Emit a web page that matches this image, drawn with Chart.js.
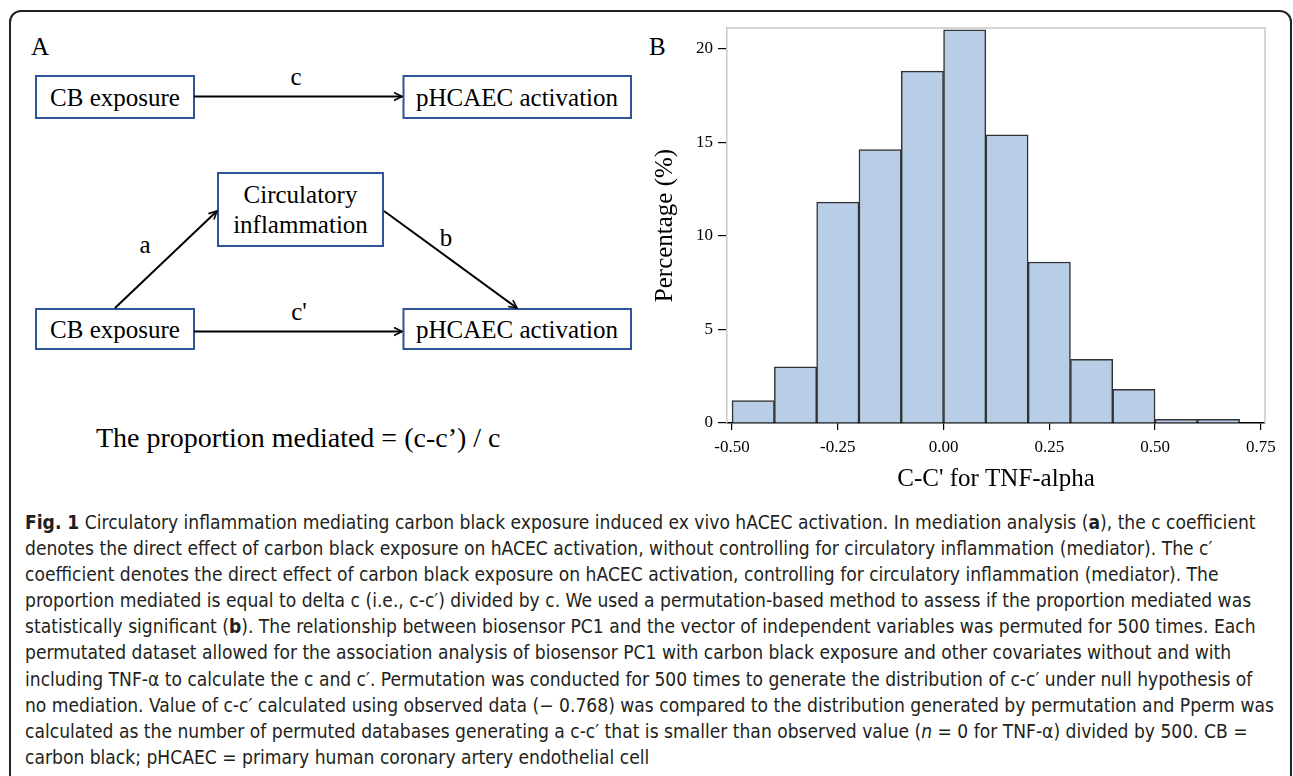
<!DOCTYPE html>
<html>
<head>
<meta charset="utf-8">
<script src="https://cdn.jsdelivr.net/npm/chart.js@4/dist/chart.umd.min.js"></script>
<style>
  body { margin: 0; width: 1293px; height: 776px; overflow: hidden; background: #fff; position: relative; }
  #frame { position: absolute; left: 9px; top: 10px; width: 1279px; height: 820px; border: 2px solid #222; border-radius: 12px; }
  #diagram { position: absolute; left: 0; top: 0; }
  #chartBox { position: absolute; left: 640px; top: 0; width: 653px; height: 500px; }
  #caption { position: absolute; left: 25px; top: 509px; font-family: "DejaVu Sans Condensed", "DejaVu Sans", sans-serif; font-stretch: condensed; font-size: 19px; line-height: 26.1px; color: #231f20; white-space: nowrap; transform-origin: 0 0; }
  #caption span { display: block; }
</style>
</head>
<body>
<div id="frame"></div>

<svg id="diagram" width="640" height="470" font-family="Liberation Serif, Times New Roman, serif" font-size="25">
  <defs>
    <marker id="arr" markerWidth="10" markerHeight="10" refX="9" refY="5" orient="auto" markerUnits="userSpaceOnUse">
      <path d="M1,1 L9,5 L1,9" fill="none" stroke="#000" stroke-width="1.6"/>
    </marker>
  </defs>
  <text x="31" y="55">A</text>
  <g fill="none" stroke="#2e5597" stroke-width="2">
    <rect x="36" y="76" width="158" height="42"/>
    <rect x="403.5" y="76" width="227.5" height="42"/>
    <rect x="218" y="173" width="165" height="73"/>
    <rect x="36" y="309" width="158" height="40"/>
    <rect x="403.5" y="309" width="227.5" height="40"/>
  </g>
  <g stroke="#000" stroke-width="2" marker-end="url(#arr)">
    <line x1="194" y1="96.5" x2="402" y2="96.5"/>
    <line x1="194" y1="331.5" x2="402" y2="331.5"/>
    <line x1="115" y1="308" x2="217" y2="211"/>
    <line x1="384" y1="211" x2="517" y2="308"/>
  </g>
  <g text-anchor="middle">
    <text x="115" y="105.5">CB exposure</text>
    <text x="517" y="105.5">pHCAEC activation</text>
    <text x="300.5" y="203">Circulatory</text>
    <text x="300.5" y="233">inflammation</text>
    <text x="115" y="338">CB exposure</text>
    <text x="517" y="338">pHCAEC activation</text>
    <text x="296" y="85">c</text>
    <text x="299" y="320">c'</text>
    <text x="145" y="253">a</text>
    <text x="446" y="246">b</text>
  </g>
  <text x="96" y="447" font-size="28">The proportion mediated = (c-c’) / c</text>
</svg>
<svg style="position:absolute;left:640px;top:0" width="40" height="70" font-family="Liberation Serif, serif" font-size="25"><text x="9" y="55">B</text></svg>

<div id="chartBox"><canvas id="hist" width="653" height="500"></canvas></div>

<div id="caption">
<span><b>Fig. 1</b> Circulatory inflammation mediating carbon black exposure induced ex vivo hACEC activation. In mediation analysis (<b>a</b>), the c coefficient</span>
<span>denotes the direct effect of carbon black exposure on hACEC activation, without controlling for circulatory inflammation (mediator). The c′</span>
<span>coefficient denotes the direct effect of carbon black exposure on hACEC activation, controlling for circulatory inflammation (mediator). The</span>
<span>proportion mediated is equal to delta c (i.e., c-c′) divided by c. We used a permutation-based method to assess if the proportion mediated was</span>
<span>statistically significant (<b>b</b>). The relationship between biosensor PC1 and the vector of independent variables was permuted for 500 times. Each</span>
<span>permutated dataset allowed for the association analysis of biosensor PC1 with carbon black exposure and other covariates without and with</span>
<span>including TNF-α to calculate the c and c′. Permutation was conducted for 500 times to generate the distribution of c-c′ under null hypothesis of</span>
<span id="longLine">no mediation. Value of c-c′ calculated using observed data (− 0.768) was compared to the distribution generated by permutation and Pperm was</span>
<span>calculated as the number of permuted databases generating a c-c′ that is smaller than observed value (<i>n</i> = 0 for TNF-α) divided by 500. CB =</span>
<span>carbon black; pHCAEC = primary human coronary artery endothelial cell</span>
</div>

<script>
// histogram of c-c' for TNF-alpha, 500 permutations
const binStarts = [-0.5, -0.4, -0.3, -0.2, -0.1, 0.0, 0.1, 0.2, 0.3, 0.4, 0.5, 0.6];
const binWidth = 0.1;
const percentages = [1.2, 3.0, 11.8, 14.6, 18.8, 21.0, 15.4, 8.6, 3.4, 1.8, 0.2, 0.2];
const xTicks = [-0.5, -0.25, 0, 0.25, 0.5, 0.75];
const yTicks = [0, 5, 10, 15, 20];

const serif = "Liberation Serif";

// squeeze the caption so its longest line ends where the reference one does
const caption = document.getElementById("caption");
const longLine = document.getElementById("longLine");
const lineWidth = longLine.getBoundingClientRect().width;
caption.style.transform = `scaleX(${1249 / lineWidth})`;

// light grey frame on top and right of the plot
const framePlugin = {
    id: "frame",
    beforeDatasetsDraw (chart)
    {
        const {ctx, chartArea: a} = chart;
        ctx.save();
        ctx.strokeStyle = "#c8c8c8";
        ctx.lineWidth = 1.5;
        ctx.beginPath();
        ctx.moveTo(a.left, a.top);
        ctx.lineTo(a.right, a.top);
        ctx.lineTo(a.right, a.bottom);
        ctx.stroke();
        ctx.restore();
    }
};

new Chart(document.getElementById("hist"), {
    type: "bar",
    data: {
        datasets: [{
            data: binStarts.map((s, i) => ({x: s + binWidth / 2, y: percentages[i]})),
            backgroundColor: "#b8cee7",
            borderColor: "#333",
            borderWidth: 1.5,
            barPercentage: 1,
            categoryPercentage: 1
        }]
    },
    options: {
        responsive: false,
        animation: false,
        devicePixelRatio: 1,
        layout: { padding: {top: 28, right: 28, left: 0, bottom: 0} },
        plugins: { legend: {display: false}, tooltip: {enabled: false} },
        scales: {
            x: {
                type: "linear",
                offset: false,
                min: -0.512,
                max: 0.76,
                afterBuildTicks: scale => { scale.ticks = xTicks.map(v => ({value: v})); },
                afterFit: scale => { scale.height = 77; },
                grid: { offset: false, drawOnChartArea: false, drawTicks: true, tickLength: 7, color: "#000", lineWidth: 1.2 },
                border: { color: "#000", width: 1.5 },
                ticks: { color: "#000", font: {family: serif, size: 17}, padding: 7, callback: v => v.toFixed(2) },
                title: { display: true, text: "C-C' for TNF-alpha", color: "#000", font: {family: serif, size: 25}, padding: {top: 0, bottom: 6} }
            },
            y: {
                min: 0,
                max: 21.1,
                afterBuildTicks: scale => { scale.ticks = yTicks.map(v => ({value: v})); },
                afterFit: scale => { scale.width = 87; },
                grid: { drawOnChartArea: false, drawTicks: true, tickLength: 9, color: "#000", lineWidth: 1.2 },
                border: { color: "#c8c8c8", width: 1.5 },
                ticks: { color: "#000", font: {family: serif, size: 17}, padding: 5 },
                title: { display: true, text: "Percentage (%)", color: "#000", font: {family: serif, size: 25}, padding: {top: 10, bottom: 0} }
            }
        }
    },
    plugins: [framePlugin]
});
</script>
</body>
</html>
